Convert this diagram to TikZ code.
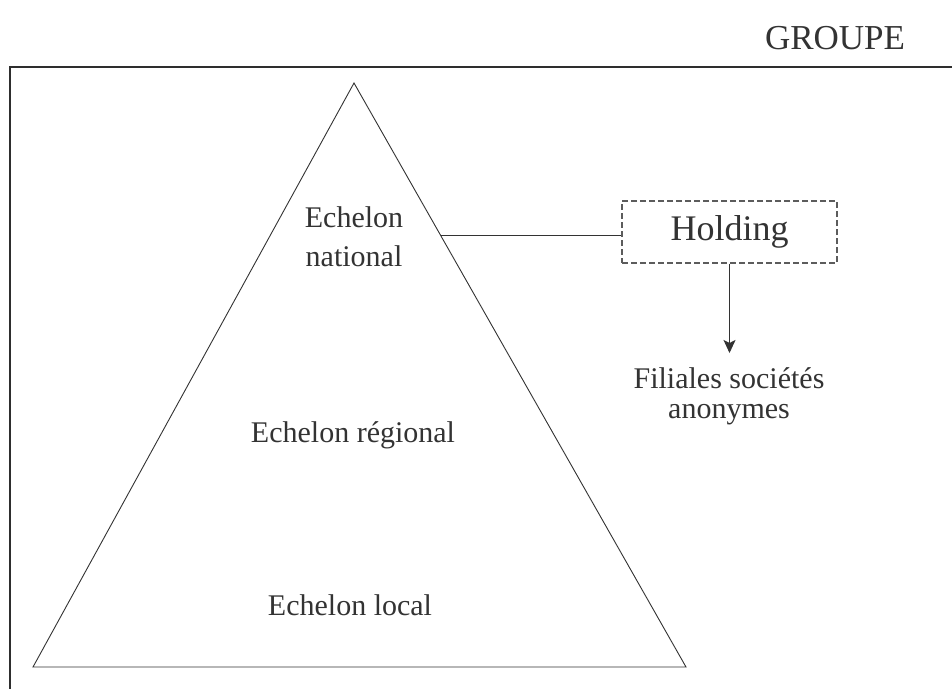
\documentclass[tikz,border=0pt]{standalone}
\usepackage{fontspec}
\setmainfont{Liberation Serif}
\usetikzlibrary{arrows.meta,calc}
\definecolor{ink}{HTML}{333333}
\tikzset{
  lbl/.style={text=ink, font=\fontsize{30}{39}\selectfont, align=center, inner sep=0pt},
  frame/.style={draw=ink!90!black, line width=1.6pt},
  tri/.style={draw=ink, line width=0.9pt},
  hold/.style={draw=ink!80, dashed, dash pattern=on 6pt off 3pt, line width=1.2pt, minimum width=215pt, minimum height=62pt, inner sep=0pt, text=ink, font=\fontsize{36}{40}\selectfont},
  link/.style={draw=ink, line width=0.9pt},
}
\begin{document}
\begin{tikzpicture}[x=1pt,y=-1pt]
\useasboundingbox (0,0) rectangle (952,688);
\fill[white] (0,0) rectangle (952,688);
\draw[frame] (10,980) -- (10,67) -- (1100,67);
\node[text=ink, font=\fontsize{35}{40}\selectfont, inner sep=0pt] (groupe) at (835,38) {GROUPE};
\coordinate (apex) at (354,83);
\coordinate (bl) at (33,667);
\coordinate (br) at (686,667);
\draw[tri] (apex) -- (br) -- (bl) -- cycle;
\node[lbl, font=\fontsize{30}{39}\selectfont] (nat) at (354,237) {Echelon\\national};
\node[lbl] (reg) at (353,435) {Echelon régional};
\node[lbl] (loc) at (350,605) {Echelon local};
\node[hold] (holding) at (729.5,232) {Holding};
\coordinate (edge) at ($(apex)!0.261!(br)$);
\draw[link] (edge) -- (edge -| holding.west);
\node[lbl, font=\fontsize{30}{30}\selectfont] (fil) at (729,396) {Filiales sociétés\\anonymes};
\draw[link, -{Stealth[length=13pt,width=12pt,inset=3pt]}] (holding.south) -- (holding.south |- 0,353);
\end{tikzpicture}
\end{document}
